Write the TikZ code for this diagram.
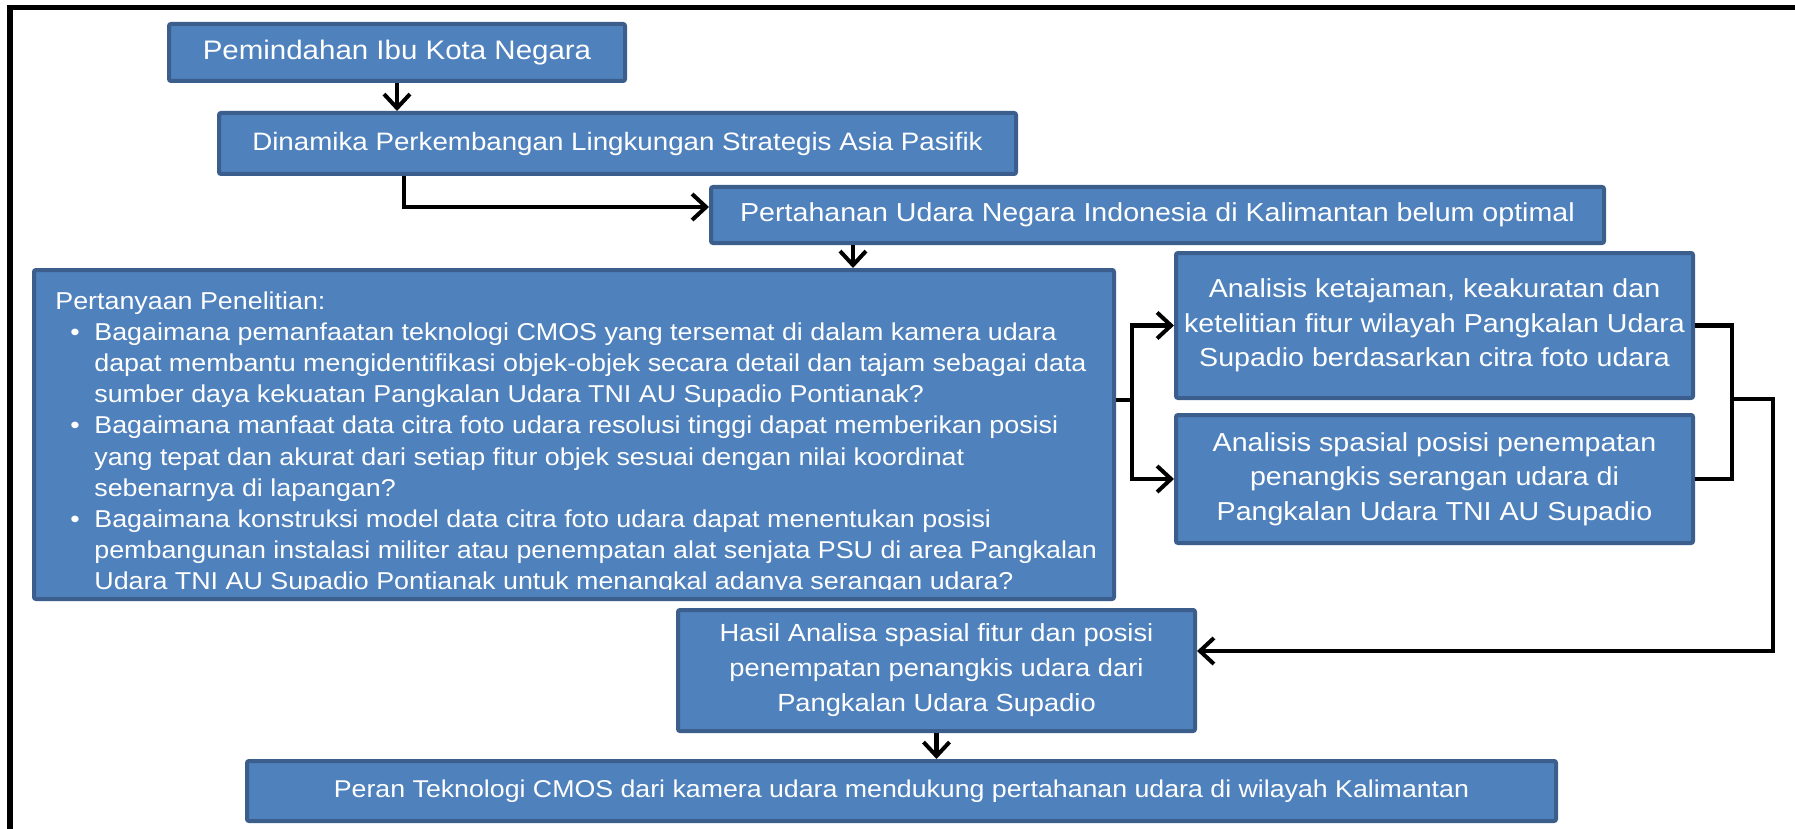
\documentclass[tikz,border=0pt]{standalone}
\usepackage{fontspec}
\setmainfont{Liberation Sans}[FakeStretch=1.1]
\usetikzlibrary{arrows.meta}
\definecolor{boxfill}{HTML}{4F81BD}
\definecolor{boxline}{HTML}{3B5E8C}
\begin{document}
\begin{tikzpicture}[x=0.5pt,y=-0.5pt,
  box/.style={draw=boxline, fill=boxfill, line width=2pt, rounded corners=1pt,
    text=white, align=center, inner sep=0pt,
    font=\fontsize{12.75}{15.5}\selectfont},
  wire/.style={line width=2.3pt},
  arr/.style={wire, -{Straight Barb[length=7pt,width=13pt,line width=2pt]}}]
\useasboundingbox (0,0) rectangle (1795,829);
% frame
\draw[line width=2.6pt] (10,829)--(10,7.5)--(1795,7.5);
% boxes
\node[box, minimum width=228pt, minimum height=28.5pt,
  font=\fontsize{13.4}{16}\selectfont] (b1) at (397,52.5)
  {Pemindahan Ibu Kota Negara};
\node[box, minimum width=398.5pt, minimum height=30.5pt,
  font=\fontsize{12.6}{15.5}\selectfont] (b2) at (617.5,143.5)
  {Dinamika Perkembangan Lingkungan Strategis Asia Pasifik};
\node[box, minimum width=446.5pt, minimum height=28pt,
  font=\fontsize{13}{15.5}\selectfont] (b3) at (1157.5,215)
  {Pertahanan Udara Negara Indonesia di Kalimantan belum optimal};
\node[box, minimum width=540pt, minimum height=164.5pt] (q) at (574,434.5) {};
\node[box, minimum width=258.5pt, minimum height=72.5pt,
  font=\fontsize{13}{17.2}\selectfont] (a1) at (1434.5,325.5)
  {Analisis ketajaman, keakuratan dan\\ketelitian fitur wilayah Pangkalan Udara\\Supadio berdasarkan citra foto udara};
\node[box, minimum width=258.5pt, minimum height=64pt,
  font=\fontsize{13}{17.2}\selectfont] (a2) at (1434.5,479)
  {Analisis spasial posisi penempatan\\penangkis serangan udara di\\Pangkalan Udara TNI AU Supadio};
\node[box, minimum width=258.5pt, minimum height=60.5pt,
  font=\fontsize{12.4}{17.5}\selectfont] (h) at (936.5,670.5)
  {Hasil Analisa spasial fitur dan posisi\\penempatan penangkis udara dari\\Pangkalan Udara Supadio};
\node[box, minimum width=654.5pt, minimum height=30pt,
  font=\fontsize{12.15}{15.5}\selectfont] (p) at (901.5,791)
  {Peran Teknologi CMOS dari kamera udara mendukung pertahanan udara di wilayah Kalimantan};
% research questions
\begin{scope}
\clip (40,276) rectangle (1108,589);
\node[anchor=north west, align=left, inner sep=0pt, text=white,
  font=\fontsize{12.2}{15.6}\selectfont] (qt) at (55,291)
  {Pertanyaan Penelitian:\\
  \hspace*{7.5pt}\makebox[12pt][l]{•}Bagaimana pemanfaatan teknologi CMOS yang tersemat di dalam kamera udara\\
  \hspace*{19.5pt}dapat membantu mengidentifikasi objek-objek secara detail dan tajam sebagai data\\
  \hspace*{19.5pt}sumber daya kekuatan Pangkalan Udara TNI AU Supadio Pontianak?\\
  \hspace*{7.5pt}\makebox[12pt][l]{•}Bagaimana manfaat data citra foto udara resolusi tinggi dapat memberikan posisi\\
  \hspace*{19.5pt}yang tepat dan akurat dari setiap fitur objek sesuai dengan nilai koordinat\\
  \hspace*{19.5pt}sebenarnya di lapangan?\\
  \hspace*{7.5pt}\makebox[12pt][l]{•}Bagaimana konstruksi model data citra foto udara dapat menentukan posisi\\
  \hspace*{19.5pt}pembangunan instalasi militer atau penempatan alat senjata PSU di area Pangkalan\\
  \hspace*{19.5pt}Udara TNI AU Supadio Pontianak untuk menangkal adanya serangan udara?};
\end{scope}
% connectors
\coordinate (k1) at (404,207);
\coordinate (k2) at (853,0);
\coordinate (k3) at (1132,400);
\coordinate (k4) at (1732,399);
\coordinate (k5) at (1773,651);
\draw[arr] (b1.south)--(b1.south |- b2.north);
\draw[arr] (b2.south -| k1)--(k1)--(b3.west |- k1);
\draw[arr] (b3.south -| k2)--(q.north -| k2);
\draw[wire] (q.east |- k3)--(k3);
\draw[arr] (k3) |- (a1.west);
\draw[arr] (k3) |- (a2.west);
\draw[wire] (a1.east) -| (k4) |- (a2.east);
\draw[arr] (k4) -| (k5)--(h.east |- k5);
\draw[arr] (h.south)--(h.south |- p.north);
\end{tikzpicture}
\end{document}
